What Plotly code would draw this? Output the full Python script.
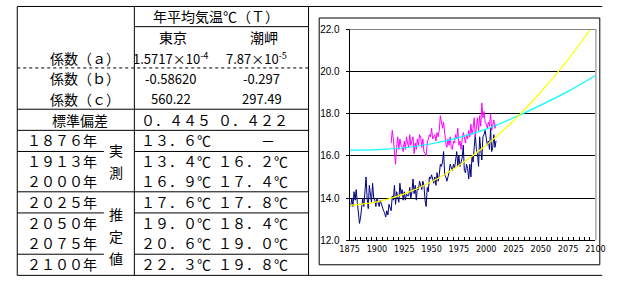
import plotly.graph_objects as go

W, H = 619, 302

# ---------------- data ----------------
tokyo_years = list(range(1876, 2010))
tokyo_temp = [
    13.6, 14.0, 13.6, 14.3, 13.9, 14.4, 13.8, 13.2, 12.8, 13.1,
    13.7, 14.0, 13.6, 14.2, 15.0, 14.0, 13.5, 14.6, 14.3, 13.8,
    14.7, 14.0, 13.9, 13.6, 14.0, 13.8, 13.6, 13.9, 13.7, 13.5,
    13.4, 13.3, 13.1, 13.4, 13.2, 13.7, 13.5, 13.4, 14.1, 13.9,
    14.6, 13.7, 14.3, 14.1, 13.8, 14.7, 14.2, 14.4, 13.9, 14.3,
    13.9, 14.2, 14.1, 14.1, 14.5, 14.0, 14.3, 14.9, 14.2, 14.6,
    13.9, 14.5, 14.4, 14.8, 14.6, 14.4, 14.8, 14.6, 13.9, 13.6,
    14.5, 14.3, 15.0, 14.9, 15.1, 14.9, 14.7, 15.0, 14.6, 15.2,
    14.8, 15.1, 15.6, 15.5, 15.7, 16.2, 15.1, 15.0, 14.8, 15.0,
    15.2, 15.6, 15.4, 15.3, 15.6, 15.4, 15.8, 16.2, 15.5, 16.0,
    15.5, 15.7, 15.9, 16.5, 15.3, 15.2, 15.6, 15.4, 14.9, 15.6,
    15.0, 16.0, 15.7, 16.4, 17.0, 16.3, 16.1, 15.5, 16.9, 16.3,
    15.8, 16.9, 17.0, 17.2, 16.9, 16.5, 16.7, 16.3, 17.3, 16.2,
    16.4, 17.0, 16.4, 16.7,
]
shio_years = list(range(1913, 2010))
shio_temp = [
    16.6, 17.2, 16.8, 16.2, 15.6, 16.4, 16.9, 16.3, 16.8, 16.5,
    16.4, 16.2, 16.7, 16.3, 16.9, 16.6, 16.4, 17.0, 16.5, 16.7,
    16.9, 16.1, 16.6, 16.3, 16.8, 16.5, 17.0, 16.9, 16.4, 16.8,
    16.2, 16.1, 16.0, 16.6, 16.8, 17.0, 16.9, 17.3, 16.8, 16.9,
    17.0, 16.7, 17.1, 16.9, 17.2, 17.9, 17.5, 17.3, 17.6, 16.9,
    16.6, 16.4, 16.8, 16.5, 16.9, 16.4, 16.3, 16.7, 16.6, 17.0,
    16.8, 17.3, 16.5, 16.7, 16.3, 16.8, 17.1, 16.9, 16.6, 17.0,
    16.8, 17.2, 16.9, 17.5, 17.0, 17.3, 17.8, 16.9, 17.5, 17.8,
    17.2, 17.9, 17.4, 18.5, 17.8, 18.1, 17.6, 17.5, 17.3, 17.6,
    17.4, 18.0, 17.2, 17.4, 17.7, 17.3, 17.5,
]
fit_years = [1875, 1900, 1925, 1950, 1975, 2000, 2025, 2050, 2075, 2100]
tokyo_fit = [13.65, 13.82, 14.20, 14.77, 15.54, 16.50, 17.66, 19.02, 20.57, 22.32]
shio_fit = [16.27, 16.29, 16.38, 16.57, 16.86, 17.26, 17.80, 18.40, 19.05, 19.80]

x_ticks = [1875, 1900, 1925, 1950, 1975, 2000, 2025, 2050, 2075, 2100]
y_ticks = [12, 14, 16, 18, 20, 22]

header_title = "年平均気温℃（Ｔ）"
stations = ["東京", "潮岬"]
coef_labels = ["係数（ａ）", "係数（ｂ）", "係数（ｃ）"]
coef_tokyo = ["1.5717×10<sup>-4</sup>", "-0.58620", "560.22"]
coef_shio = ["7.87×10<sup>-5</sup>", "-0.297", "297.49"]
sd_label = "標準偏差"
sd_values = ["０．４４５", "０．４２２"]
year_labels = ["１８７６年", "１９１３年", "２０００年", "２０２５年", "２０５０年", "２０７５年", "２１００年"]
val_tokyo = ["１３．６℃", "１３．４℃", "１６．９℃", "１７．６℃", "１９．０℃", "２０．６℃", "２２．３℃"]
val_shio = ["－", "１６．２℃", "１７．４℃", "１７．８℃", "１８．４℃", "１９．０℃", "１９．８℃"]
measured_chars = ["実", "測"]
estimated_chars = ["推", "定", "値"]

# ---------------- helpers ----------------
def X(px):
    return px / W

def Y(py):
    return 1 - py / H

shapes = []
annotations = []

def hline(y, x0, x1, dash="solid", color="black"):
    shapes.append(dict(type="line", xref="paper", yref="paper",
                       x0=X(x0), x1=X(x1), y0=Y(y), y1=Y(y),
                       line=dict(color=color, width=1, dash=dash)))

def vline(x, y0, y1, color="black"):
    shapes.append(dict(type="line", xref="paper", yref="paper",
                       x0=X(x), x1=X(x), y0=Y(y0), y1=Y(y1),
                       line=dict(color=color, width=1)))

JP = "Noto Sans CJK JP, Noto Sans CJK SC, sans-serif"

def text(s, x, y, anchor="center", size=14):
    annotations.append(dict(text=s, xref="paper", yref="paper",
                            x=X(x), y=Y(y), xanchor=anchor, yanchor="middle",
                            showarrow=False,
                            font=dict(family=JP, size=size, color="black")))

# ---------------- table grid ----------------
L, M, R = 7.5, 128.5, 308.5
TOP, BOT = 0.5, 280.5
rh = 21.5

def rc(i):
    return i * rh + rh / 2

hline(TOP, L, 612)
hline(BOT, L, 612)
vline(L, TOP, BOT)
vline(M, TOP, BOT)
vline(R, TOP, BOT)
hline(21.5, M, R)
hline(64.5, L, R, dash="dot")
hline(107.5, L, R)
hline(129.5, L, R)
hline(151.5, L, 97)
hline(151.5, M, R)
hline(193.5, L, R)
hline(215.5, L, 97)
hline(215.5, M, R)
hline(258.5, L, 97)
hline(258.5, M, R)

# ---------------- table text ----------------
text(header_title, 213, rc(0))
text(stations[0], 168, rc(1))
text(stations[1], 262, rc(1))
for i in range(3):
    text(coef_labels[i], 77, rc(2 + i))
    text(coef_tokyo[i], 166, rc(2 + i), size=13)
    text(coef_shio[i], 255 if i == 0 else 260, rc(2 + i), size=13)
text(sd_label, 72, rc(5))
text(sd_values[0], 133, rc(5), anchor="left")
text(sd_values[1], 213, rc(5), anchor="left")
for i in range(7):
    text(year_labels[i], 15, rc(6 + i), anchor="left")
    text(val_tokyo[i], 133, rc(6 + i), anchor="left")
    if val_shio[i] == "－":
        text(val_shio[i], 267, rc(6 + i))
    else:
        text(val_shio[i], 213, rc(6 + i), anchor="left")
for ch, yy in zip(measured_chars, [150, 173]):
    text(ch, 110, yy)
for ch, yy in zip(estimated_chars, [217, 240, 262]):
    text(ch, 110, yy)

# chart box
shapes.append(dict(type="rect", xref="paper", yref="paper", layer="below",
                   x0=X(319.5), x1=X(609.5), y0=Y(269.5), y1=Y(12.5),
                   line=dict(color="black", width=1), fillcolor="white"))
# plot border top/right grey
PX0, PX1, PY0, PY1 = 351, 605, 24, 244
hline(PY0 + 0.5, PX0, PX1 + 0.5, color="#808080")
vline(PX1 + 0.5, PY0, PY1, color="#808080")

# ---------------- chart ----------------
fig = go.Figure()
fig.add_trace(go.Scatter(x=tokyo_years, y=tokyo_temp, mode="lines",
                         line=dict(color="#000080", width=1), hoverinfo="skip"))
fig.add_trace(go.Scatter(x=shio_years, y=shio_temp, mode="lines",
                         line=dict(color="#FF00FF", width=1), hoverinfo="skip"))
fig.add_trace(go.Scatter(x=fit_years, y=shio_fit, mode="lines",
                         line=dict(color="#00FFFF", width=1.2, shape="spline"), hoverinfo="skip"))
fig.add_trace(go.Scatter(x=fit_years, y=tokyo_fit, mode="lines",
                         line=dict(color="#FFFF00", width=1.2, shape="spline"), hoverinfo="skip"))

fig.update_layout(
    width=W, height=H,
    margin=dict(l=0, r=0, t=0, b=0),
    paper_bgcolor="white",
    plot_bgcolor="#C0C0C0",
    showlegend=False,
    shapes=shapes,
    annotations=annotations,
    xaxis=dict(
        domain=[X(PX0), X(PX1)],
        range=[1875, 2100],
        tickvals=x_ticks,
        ticktext=[str(v) for v in x_ticks],
        ticks="inside", ticklen=3, tickcolor="black",
        minor=dict(dtick=5, tick0=1875, ticks="inside", ticklen=3, tickcolor="black"),
        showgrid=False, zeroline=False,
        showline=True, linecolor="black", linewidth=1,
        tickfont=dict(family="Liberation Sans Narrow, DejaVu Sans Condensed, Arial Narrow, sans-serif",
                      size=9, color="black"),
        fixedrange=True,
    ),
    yaxis=dict(
        domain=[1 - PY1 / H, 1 - PY0 / H],
        range=[12, 22],
        tickvals=y_ticks,
        ticktext=["%.1f" % v for v in y_ticks],
        ticks="outside", ticklen=3, tickcolor="black",
        showgrid=True, gridcolor="black", gridwidth=1,
        zeroline=False,
        showline=True, linecolor="black", linewidth=1,
        tickfont=dict(family="Liberation Sans, Arial, sans-serif", size=10, color="black"),
        ticklabelstandoff=4,
        fixedrange=True,
    ),
)

fig.write_html("out.html")
